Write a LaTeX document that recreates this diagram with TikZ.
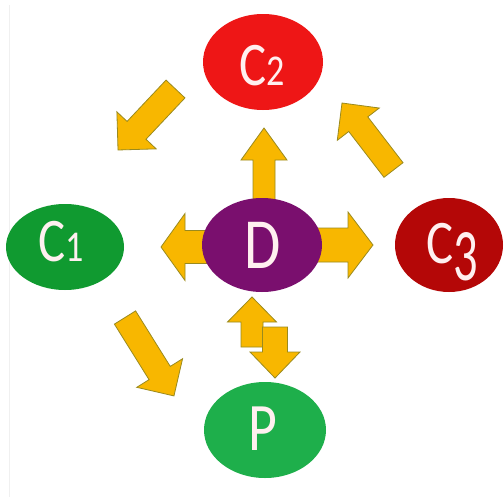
\documentclass[tikz,border=0pt]{standalone}
\usepackage{fontspec}
\setmainfont{Carlito}
\usetikzlibrary{shapes.geometric,calc}
\definecolor{arrowfill}{HTML}{F8B700}
\definecolor{arrowline}{HTML}{9A8A1E}
\definecolor{cred}{HTML}{EE1616}
\definecolor{cpurple}{HTML}{7A0F6E}
\definecolor{cgreen}{HTML}{109A30}
\definecolor{cdarkred}{HTML}{B40707}
\definecolor{pgreen}{HTML}{1EAF4B}
\definecolor{labeltext}{HTML}{FFF0F0}
\tikzset{
  blk/.style={fill=arrowfill, draw=arrowline, line width=0.8pt, line join=miter},
  pics/blockarrow/.style n args={4}{code={
    \path[blk] (0,-#2) -- ({#1-#4},-#2) -- ({#1-#4},-#3) -- (#1,0)
      -- ({#1-#4},#3) -- ({#1-#4},#2) -- (0,#2) -- cycle;
  }},
  bubble/.style={ellipse, inner sep=0pt, draw=none},
  lbl/.style={text=labeltext, font=\fontsize{62}{62}\selectfont, anchor=base, inner sep=0pt},
}
\newcommand{\blockarr}[5]{%
  \path let \p1=($(#2)-(#1)$), \n1={atan2(\y1,\x1)}, \n2={veclen(\x1,\y1)} in
    pic[rotate=\n1] at (#1) {blockarrow={\n2}{#3}{#4}{#5}};
}
\newcommand{\smalldig}[1]{{\fontsize{44}{44}\selectfont #1}}
\newcommand{\lowdig}[1]{\raisebox{-17pt}{\scalebox{0.8}[1]{\fontsize{74}{74}\selectfont #1}}}
\newcommand{\narrow}[1]{\scalebox{0.82}[1]{#1}}
\begin{document}
\begin{tikzpicture}[x=1pt,y=-1pt]
\useasboundingbox (0,0) rectangle (504,501);
\fill[white] (0,0) rectangle (504,501);
\draw[line width=1pt, gray!12] (9,5) -- (9,497);

% arrow end points
\coordinate (aUt) at (264,210);   \coordinate (aUh) at (264,128);
\coordinate (aLt) at (215,247);   \coordinate (aLh) at (161,247);
\coordinate (aRt) at (310,245);   \coordinate (aRh) at (373,245);
\coordinate (aTLt) at (175.5,89); \coordinate (aTLh) at (118,150);
\coordinate (aTRt) at (393.5,170);\coordinate (aTRh) at (342,103);
\coordinate (aBLt) at (125,317.5);\coordinate (aBLh) at (174,396);
\coordinate (aDUt) at (252,347);  \coordinate (aDUh) at (252,297);
\coordinate (aDDt) at (275,327);  \coordinate (aDDh) at (275,378);

\blockarr{aUt}{aUh}{11}{23}{32}
\blockarr{aLt}{aLh}{16.5}{33.5}{24}
\blockarr{aRt}{aRh}{17}{33}{25}
\blockarr{aTLt}{aTLh}{13}{27}{27}
\blockarr{aTRt}{aTRh}{12}{26.5}{26.7}
\blockarr{aBLt}{aBLh}{12.5}{27}{27}
\blockarr{aDUt}{aDUh}{11}{24.5}{25}
\blockarr{aDDt}{aDDh}{12.5}{25}{26}

% bubbles
\node[bubble, fill=cred, minimum width=120pt, minimum height=96pt] (C2) at (263,62) {};
\node[bubble, fill=cpurple, minimum width=120pt, minimum height=94pt] (D) at (262,245) {};
\node[bubble, fill=cgreen, minimum width=118pt, minimum height=86pt] (C1) at (65,247) {};
\node[bubble, fill=cdarkred, minimum width=108pt, minimum height=94pt] (C3) at (449,245) {};
\node[bubble, fill=pgreen, minimum width=122pt, minimum height=96pt] (P) at (265,430) {};

% labels
\node[lbl] (tC2) at (262,85) {\narrow{C\smalldig{2}}};
\node[lbl, font=\fontsize{72}{72}\selectfont] (tD) at (262.5,268) {\narrow{D}};
\node[lbl] (tC1) at (61,261) {\narrow{C\smalldig{1}}};
\node[lbl] (tC3) at (452,263) {\narrow{C\lowdig{3}}};
\node[lbl, font=\fontsize{68}{68}\selectfont] (tP) at (263,450) {\narrow{P}};
\end{tikzpicture}
\end{document}
